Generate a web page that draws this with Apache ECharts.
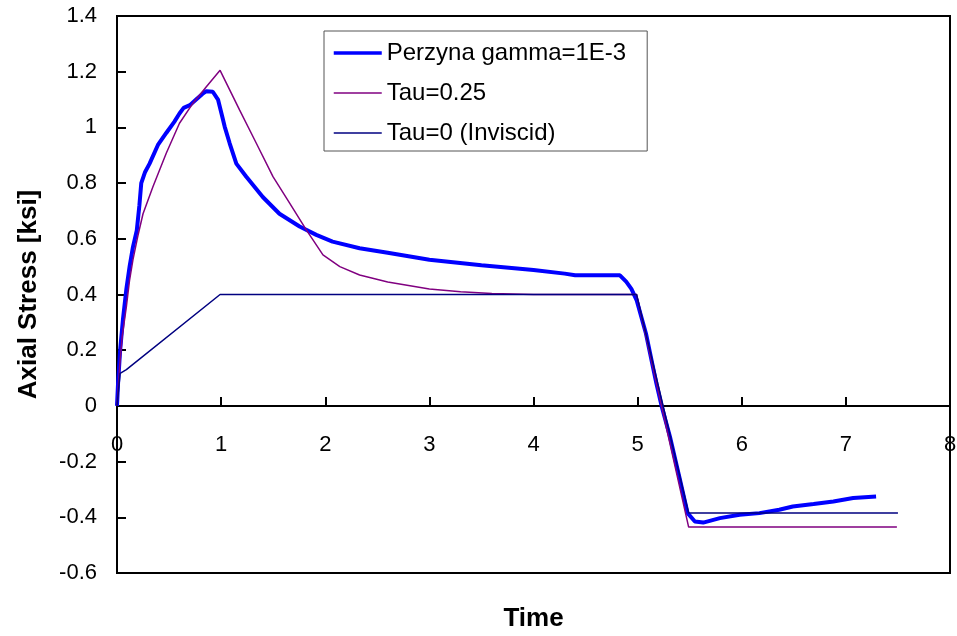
<!DOCTYPE html>
<html>
<head>
<meta charset="utf-8">
<script src="https://cdn.jsdelivr.net/npm/echarts@6/dist/echarts.min.js"></script>
<style>
html,body{margin:0;padding:0;background:#fff;}
#chart{width:957px;height:636px;}
</style>
</head>
<body>
<div id="chart"></div>
<script>
// Series names
var seriesNames = ['Perzyna gamma=1E-3', 'Tau=0.25', 'Tau=0 (Inviscid)'];

// Perzyna gamma=1E-3 : [time, stress]
var perzynaTime = [0, 0.01, 0.03, 0.057, 0.09, 0.121, 0.153, 0.19, 0.215, 0.233, 0.27, 0.313, 0.393, 0.473, 0.55, 0.60, 0.64, 0.70, 0.76, 0.82, 0.858, 0.92, 0.97, 1.01, 1.034, 1.082, 1.146, 1.242, 1.40, 1.56, 1.754, 1.914, 2.07, 2.33, 2.6, 3.0, 3.5, 4.0, 4.3, 4.4, 4.83, 4.89, 4.94, 4.99, 5.08, 5.18, 5.23, 5.31, 5.40, 5.48, 5.55, 5.63, 5.79, 5.98, 6.17, 6.36, 6.49, 6.69, 6.88, 7.07, 7.29];
var perzynaStress = [0, 0.08, 0.2, 0.31, 0.42, 0.50, 0.57, 0.63, 0.72, 0.80, 0.84, 0.87, 0.937, 0.98, 1.02, 1.05, 1.07, 1.08, 1.10, 1.12, 1.13, 1.128, 1.10, 1.04, 1.003, 0.943, 0.87, 0.823, 0.75, 0.69, 0.644, 0.614, 0.59, 0.566, 0.55, 0.525, 0.505, 0.488, 0.475, 0.469, 0.469, 0.446, 0.42, 0.38, 0.26, 0.081, 0, -0.11, -0.254, -0.385, -0.415, -0.419, -0.403, -0.391, -0.385, -0.373, -0.361, -0.352, -0.343, -0.331, -0.325];

// Tau=0.25
var tau025Time = [0, 0.025, 0.05, 0.09, 0.12, 0.153, 0.2, 0.25, 0.345, 0.473, 0.60, 0.73, 0.858, 0.99, 1.0, 1.178, 1.338, 1.498, 1.658, 1.818, 1.978, 2.14, 2.33, 2.6, 3.0, 3.3, 3.6, 4.0, 4.99, 5.49, 7.49];
var tau025Stress = [0, 0.14, 0.25, 0.356, 0.45, 0.524, 0.61, 0.69, 0.787, 0.907, 1.015, 1.087, 1.146, 1.205, 1.21, 1.062, 0.943, 0.823, 0.728, 0.632, 0.542, 0.50, 0.47, 0.445, 0.42, 0.41, 0.404, 0.40, 0.40, -0.435, -0.435];

// Tau=0 (Inviscid)
var tau0Time = [0, 0.03, 0.09, 0.99, 4.99, 5.49, 7.5];
var tau0Stress = [0, 0.117, 0.13, 0.40, 0.40, -0.385, -0.385];

// Axis ticks
var xTicks = [0, 1, 2, 3, 4, 5, 6, 7, 8];
var yTicks = [-0.6, -0.4, -0.2, 0, 0.2, 0.4, 0.6, 0.8, 1, 1.2, 1.4];

function pairs(xs, ys) {
  var out = [];
  for (var i = 0; i < xs.length; i++) out.push([xs[i], ys[i]]);
  return out;
}

var FONT = '"Liberation Sans", Arial, sans-serif';
var chart = echarts.init(document.getElementById('chart'), null, {renderer: 'canvas'});

chart.setOption({
  animation: false,
  backgroundColor: '#fff',
  textStyle: {fontFamily: FONT, color: '#000'},
  grid: {
    left: 117, right: 7, top: 16, bottom: 63,
    outerBoundsMode: 'none',
    containLabel: false,
    show: true, borderColor: '#000', borderWidth: 2, backgroundColor: 'transparent'
  },
  legend: {
    orient: 'vertical',
    left: 324, top: 31,
    padding: [10, 6, 6, 8],
    itemGap: 16,
    itemWidth: 48,
    itemHeight: 14,
    itemStyle: {opacity: 0, borderWidth: 0},
    borderColor: '#555',
    borderWidth: 1,
    backgroundColor: '#fff',
    data: [
      {name: seriesNames[0], lineStyle: {width: 3.5}},
      {name: seriesNames[1], lineStyle: {width: 1.5}},
      {name: seriesNames[2], lineStyle: {width: 1.5}}
    ],
    textStyle: {fontFamily: FONT, fontSize: 24, color: '#000', lineHeight: 24, padding: [0, 15, 0, 0]}
  },
  xAxis: {
    type: 'value',
    min: xTicks[0], max: xTicks[xTicks.length - 1], interval: 1,
    name: 'Time',
    nameLocation: 'middle',
    nameGap: 33,
    nameTextStyle: {fontFamily: FONT, fontSize: 26, fontWeight: 'bold', color: '#000'},
    axisLine: {onZero: true, lineStyle: {color: '#000', width: 2}},
    axisTick: {inside: true, length: 9, lineStyle: {color: '#000', width: 2}},
    axisLabel: {fontFamily: FONT, fontSize: 22, color: '#000', margin: -139},
    splitLine: {show: false}
  },
  yAxis: {
    type: 'value',
    min: yTicks[0], max: yTicks[yTicks.length - 1], interval: 0.2,
    name: 'Axial Stress [ksi]',
    nameLocation: 'middle',
    nameGap: 75,
    nameTextStyle: {fontFamily: FONT, fontSize: 26, fontWeight: 'bold', color: '#000'},
    axisLine: {show: true, onZero: false, lineStyle: {color: '#000', width: 2}},
    axisTick: {inside: true, length: 9, lineStyle: {color: '#000', width: 2}},
    axisLabel: {
      fontFamily: FONT, fontSize: 22, color: '#000', margin: 20,
      formatter: function (v) { return String(+v.toFixed(1)); }
    },
    splitLine: {show: false}
  },
  series: [
    {
      name: seriesNames[0], type: 'line', symbol: 'none',
      data: pairs(perzynaTime, perzynaStress),
      lineStyle: {color: '#0000FF', width: 4},
      itemStyle: {color: '#0000FF'}
    },
    {
      name: seriesNames[1], type: 'line', symbol: 'none',
      data: pairs(tau025Time, tau025Stress),
      lineStyle: {color: '#800080', width: 1.5},
      itemStyle: {color: '#800080'}
    },
    {
      name: seriesNames[2], type: 'line', symbol: 'none',
      data: pairs(tau0Time, tau0Stress),
      lineStyle: {color: '#000080', width: 1.5},
      itemStyle: {color: '#000080'}
    }
  ]
});
</script>
</body>
</html>
